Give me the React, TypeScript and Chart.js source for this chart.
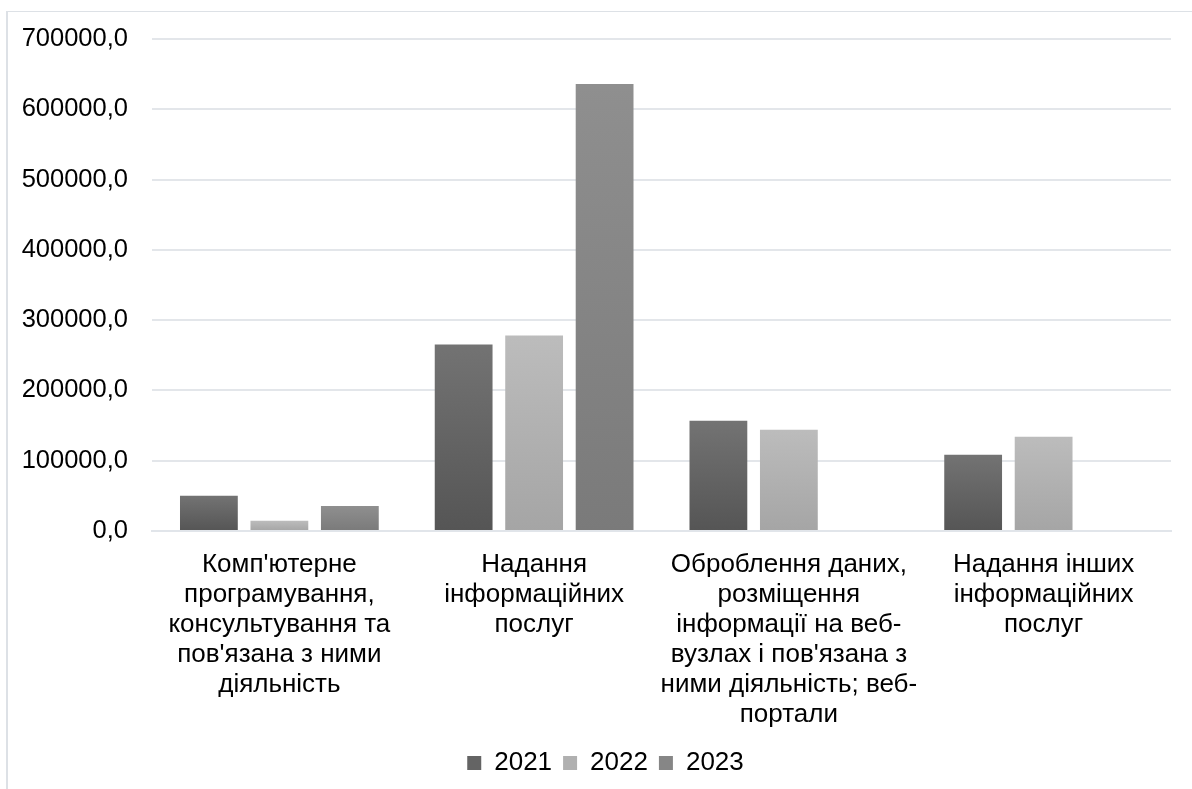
import React, { useEffect, useRef } from "react";
import { Chart, registerables } from "chart.js";

Chart.register(...registerables);

const categories: string[][] = [
  ["Комп'ютерне", "програмування,", "консультування та", "пов'язана з ними", "діяльність"],
  ["Надання", "інформаційних", "послуг"],
  ["Оброблення даних,", "розміщення", "інформації на веб-", "вузлах і пов'язана з", "ними діяльність; веб-", "портали"],
  ["Надання інших", "інформаційних", "послуг"],
];

const seriesNames = ["2021", "2022", "2023"];
const values2021: (number | null)[] = [50000, 265500, 157000, 108500];
const values2022: (number | null)[] = [14500, 278000, 144000, 134000];
const values2023: (number | null)[] = [35500, 636000, null, null];

const yMax = 700000;
const yStep = 100000;

// gradient colours [top, bottom] and legend colour
const gradients: [string, string, string][] = [
  ["#737373", "#555555", "#646464"],
  ["#bcbcbc", "#a5a5a5", "#b0b0b0"],
  ["#8f8f8f", "#7a7a7a", "#868686"],
];

const FONT = "'Liberation Sans', Arial, sans-serif";

export default function App() {
  const ref = useRef<HTMLCanvasElement | null>(null);

  useEffect(() => {
    if (!ref.current) return;
    const allValues = [values2021, values2022, values2023];

    const makeBg = (i: number) => (c: any) => {
      const chart = c.chart;
      const [top, bottom, mid] = gradients[i];
      if (c.type !== "data" || !chart.chartArea || c.raw == null) return mid;
      const ys = chart.scales.y;
      const yTop = ys.getPixelForValue(c.raw);
      const yBase = ys.getPixelForValue(0);
      if (!isFinite(yTop) || !isFinite(yBase) || yTop === yBase) return mid;
      const g = chart.ctx.createLinearGradient(0, yTop, 0, yBase);
      g.addColorStop(0, top);
      g.addColorStop(1, bottom);
      return g;
    };

    const framePlugin = {
      id: "frame",
      afterLayout(chart: any) {
        const l = chart.legend;
        if (l) {
          l.left += 17;
          l.right += 17;
        }
      },
      beforeDraw(chart: any) {
        const c = chart.ctx;
        c.save();
        c.fillStyle = "#ffffff";
        c.fillRect(0, 0, chart.width, chart.height);
        c.strokeStyle = "#dde1e6";
        c.lineWidth = 1;
        c.beginPath();
        c.moveTo(0, 0.5);
        c.lineTo(chart.width, 0.5);
        c.stroke();
        c.lineWidth = 2;
        c.beginPath();
        c.moveTo(1, 0);
        c.lineTo(1, chart.height);
        c.stroke();
        c.restore();
      },
    };

    const chart = new Chart(ref.current, {
      type: "bar",
      data: {
        labels: categories,
        datasets: seriesNames.map((name, i) => ({
          label: name,
          data: allValues[i],
          backgroundColor: makeBg(i),
          borderWidth: 0,
          categoryPercentage: 0.83,
          barPercentage: 0.82,
        })),
      },
      options: {
        animation: false,
        responsive: false,
        maintainAspectRatio: false,
        devicePixelRatio: 1,
        layout: { padding: { left: 0, right: 35, top: 28, bottom: 15 } },
        plugins: {
          legend: {
            position: "bottom",
            labels: {
              boxWidth: 14,
              boxHeight: 14,
              padding: 11,
              color: "#000000",
              font: { family: FONT, size: 26 },
              generateLabels: () =>
                seriesNames.map((name, i) => ({
                  text: name,
                  fillStyle: gradients[i][2],
                  strokeStyle: gradients[i][2],
                  lineWidth: 0,
                  hidden: false,
                  datasetIndex: i,
                  fontColor: "#000000",
                })),
            },
          },
          tooltip: { enabled: false },
        },
        scales: {
          x: {
            grid: { display: false, drawTicks: false },
            border: { display: true, color: "#e1e5ea", width: 2 },
            ticks: {
              color: "#000000",
              font: { family: FONT, size: 26, lineHeight: 1.15 },
              padding: 19,
              maxRotation: 0,
              autoSkip: false,
            },
            afterFit: (s: any) => {
              s.height = 208;
            },
          },
          y: {
            min: 0,
            max: yMax,
            grid: { color: "#e3e6ea", lineWidth: 2, drawTicks: false },
            border: { display: false },
            ticks: {
              stepSize: yStep,
              color: "#000000",
              font: { family: FONT, size: 25.5 },
              padding: 24,
              callback: (v: any) => `${v},0`,
            },
            afterFit: (s: any) => {
              s.width = 146;
              s.paddingTop = 0;
              s.paddingBottom = 0;
            },
          },
        },
      },
      plugins: [framePlugin],
    });
    return () => chart.destroy();
  }, []);

  return (
    <div style={{ position: "fixed", left: 0, top: 0, width: 1192, height: 789, overflow: "hidden", background: "#fff" }}>
      <canvas
        ref={ref}
        width={1200}
        height={790}
        style={{ position: "absolute", left: 6, top: 11, width: 1200, height: 790 }}
      />
    </div>
  );
}
